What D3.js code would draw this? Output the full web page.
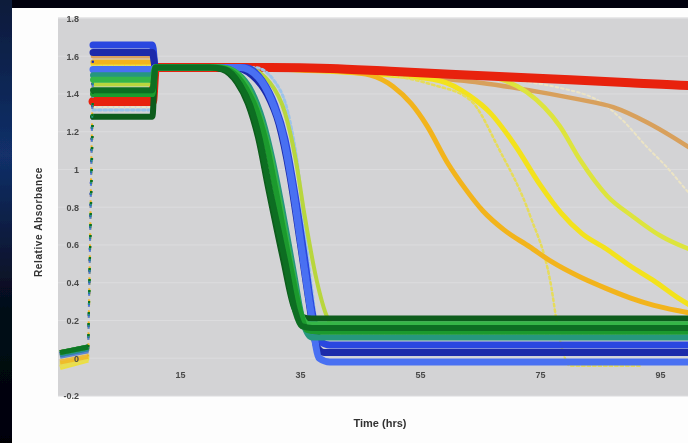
<!DOCTYPE html>
<html>
<head>
<meta charset="utf-8">
<script src="https://d3js.org/d3.v7.min.js"></script>
<style>
  body { margin: 0; background: #000; }
  svg { display: block; }
  text { font-family: "Liberation Sans", Arial, sans-serif; }
</style>
</head>
<body>
<script>
// Relative absorbance vs time, one run per colour

var w = 688;
var h = 443;

// axis ticks
var yTicks = [-0.2, 0, 0.2, 0.4, 0.6, 0.8, 1, 1.2, 1.4, 1.6, 1.8];
var yTickLabels = ["-0.2", "0", "0.2", "0.4", "0.6", "0.8", "1", "1.2", "1.4", "1.6", "1.8"];
var xTicks = [15, 35, 55, 75, 95];
var xTickLabels = ["15", "35", "55", "75", "95"];

// series values, [time (hrs), absorbance]
var palePts = [[-5, 0.03], [-0.3, 0.04], [0.5, 1.33], [10.4, 1.33], [10.9, 1.54], [20, 1.54], [60, 1.5], [80, 1.42], [85, 1.36], [88.8, 1.26], [92.8, 1.12], [96.2, 1.01], [99.7, 0.88], [106, 0.68]];
var tanPts = [[-5, 0.02], [-0.3, 0.04], [0.5, 1.6], [10.4, 1.6], [10.9, 1.54], [20, 1.54], [40, 1.52], [55, 1.49], [65, 1.46], [75, 1.41], [81.7, 1.37], [87.2, 1.33], [92.8, 1.25], [97.2, 1.17], [99.7, 1.12], [106, 1.02]];
var limeYellowPts = [[-5, -0.03], [-0.3, 0.0], [0.5, 1.385], [10.4, 1.385], [10.9, 1.54], [20, 1.54], [40, 1.53], [55, 1.52], [65, 1.5], [72.8, 1.41], [78.3, 1.23], [81.7, 1.05], [86.2, 0.86], [90.5, 0.75], [95, 0.65], [99.7, 0.58], [106, 0.52]];
var yellowPts = [[-5, -0.05], [-0.3, -0.01], [0.5, 1.56], [10.4, 1.56], [10.9, 1.54], [20, 1.54], [40, 1.52], [50, 1.5], [58.3, 1.47], [63.3, 1.39], [66.7, 1.3], [70.8, 1.13], [75, 0.92], [78.5, 0.77], [82, 0.66], [86, 0.58], [90, 0.49], [94, 0.41], [98, 0.32], [106, 0.18]];
var faintYellowPts = [[-5, -0.04], [-0.3, 0.0], [0.5, 1.55], [10.4, 1.55], [10.9, 1.54], [20, 1.54], [40, 1.53], [50, 1.5], [57, 1.45], [63.3, 1.37], [68.3, 1.1], [73.3, 0.76], [76.7, 0.41], [78.3, 0.1], [80, -0.04], [92, -0.04]];
var goldPts = [[-5, -0.02], [-0.3, 0.01], [0.5, 1.57], [10.4, 1.57], [10.9, 1.54], [20, 1.54], [35, 1.53], [42, 1.52], [46.7, 1.5], [50.5, 1.44], [53.5, 1.35], [56.2, 1.23], [59.5, 1.04], [62.5, 0.9], [65.5, 0.78], [69, 0.68], [73.3, 0.59], [77, 0.51], [81.7, 0.43], [86, 0.37], [90, 0.32], [94, 0.28], [98.3, 0.25], [106, 0.21]];
var redPts = [[-5, 0.03], [-0.3, 0.05], [0.5, 1.36], [10.4, 1.36], [10.9, 1.54], [20, 1.54], [30, 1.54], [40, 1.535], [50, 1.52], [60, 1.505], [70, 1.49], [80, 1.475], [90, 1.46], [100, 1.445], [106, 1.44]];
var lightBluePts = [[-5, 0.02], [-0.3, 0.05], [0.5, 1.315], [10.4, 1.315], [10.9, 1.54], [20, 1.54], [27.5, 1.54], [31.7, 1.42], [33.3, 1.26], [34.7, 1.0], [35.8, 0.68], [37, 0.36], [38, 0.15], [40, 0.12], [106, 0.12]];
var limePts = [[-5, 0.01], [-0.3, 0.04], [0.5, 1.45], [10.4, 1.45], [10.9, 1.54], [20, 1.54], [26, 1.54], [30, 1.46], [32.5, 1.3], [34.3, 1.05], [35.8, 0.75], [37.8, 0.41], [39.5, 0.22], [41, 0.16], [106, 0.16]];
var blue1Pts = [[-5, 0.02], [-0.3, 0.05], [0.5, 1.66], [10.4, 1.66], [10.9, 1.54], [20, 1.54], [25.8, 1.54], [28.7, 1.47], [30.8, 1.34], [32.5, 1.16], [34.2, 0.86], [35.8, 0.52], [37, 0.25], [38.3, 0.09], [40, 0.07], [106, 0.07]];
var blue2Pts = [[-5, 0.02], [-0.3, 0.05], [0.5, 1.62], [10.4, 1.62], [10.9, 1.54], [20, 1.54], [24, 1.54], [27, 1.5], [29.5, 1.4], [31.5, 1.24], [33.3, 0.97], [35, 0.62], [36.5, 0.3], [37.8, 0.06], [39, 0.03], [106, 0.03]];
var blue3Pts = [[-5, 0.01], [-0.3, 0.04], [0.5, 1.53], [10.4, 1.53], [10.9, 1.54], [20, 1.54], [25, 1.54], [28, 1.49], [30.2, 1.37], [32, 1.2], [33.8, 0.9], [35.4, 0.55], [36.8, 0.25], [38.2, 0.0], [40, -0.02], [106, -0.02]];
var green5Pts = [[-5, 0.03], [-0.3, 0.06], [0.5, 1.28], [10.4, 1.28], [10.9, 1.54], [20, 1.54], [22, 1.53], [24.5, 1.46], [26.3, 1.35], [28, 1.17], [29.7, 0.9], [32.2, 0.52], [34, 0.27], [35.3, 0.22], [37, 0.21], [106, 0.21]];
var teal4Pts = [[-5, 0.02], [-0.3, 0.05], [0.5, 1.5], [10.4, 1.5], [10.9, 1.54], [22, 1.54], [24.5, 1.51], [27, 1.41], [28.8, 1.26], [30.5, 1.04], [32, 0.8], [34, 0.45], [35.6, 0.18], [37, 0.11], [106, 0.11]];
var green3Pts = [[-5, 0.03], [-0.3, 0.06], [0.5, 1.475], [10.4, 1.475], [10.9, 1.54], [21.5, 1.54], [24, 1.52], [26.5, 1.42], [28.3, 1.28], [30, 1.08], [31.5, 0.84], [33.7, 0.46], [35.3, 0.22], [36.5, 0.18], [106, 0.18]];
var green2Pts = [[-5, 0.03], [-0.3, 0.06], [0.5, 1.4], [10.4, 1.4], [10.9, 1.54], [21, 1.54], [23.5, 1.52], [26, 1.43], [27.8, 1.31], [29.5, 1.12], [31, 0.88], [33.3, 0.5], [35, 0.25], [36.2, 0.15], [38, 0.14], [106, 0.14]];
var green1Pts = [[-5, 0.03], [-0.3, 0.06], [0.5, 1.42], [10.4, 1.42], [10.9, 1.54], [20, 1.54], [22.5, 1.53], [25, 1.45], [26.7, 1.34], [28.3, 1.16], [30, 0.89], [32.5, 0.52], [34.2, 0.25], [35.3, 0.17], [37, 0.16], [106, 0.16]];

// drawing order: back to front
var runs = [
  { pts: palePts,        color: "#ece4c4", width: 2,   dots: true },
  { pts: tanPts,         color: "#d8a05c", width: 4.5 },
  { pts: limeYellowPts,  color: "#dde43e", width: 4.5 },
  { pts: yellowPts,      color: "#f3e21e", width: 5 },
  { pts: faintYellowPts, color: "#e6dc5a", width: 2.5, dots: true },
  { pts: goldPts,        color: "#f2b41e", width: 5 },
  { pts: redPts,         color: "#e8200e", width: 9 },
  { pts: lightBluePts,   color: "#9cc4ea", width: 3,   dots: true },
  { pts: limePts,        color: "#b8d63c", width: 4 },
  { pts: blue1Pts,       color: "#2a46e0", width: 7 },
  { pts: blue2Pts,       color: "#1c2caa", width: 7 },
  { pts: blue3Pts,       color: "#4a70f2", width: 7 },
  { pts: green5Pts,      color: "#0a5c1c", width: 6 },
  { pts: teal4Pts,       color: "#27977e", width: 6 },
  { pts: green3Pts,      color: "#36b646", width: 6 },
  { pts: green2Pts,      color: "#1d9a2e", width: 6 },
  { pts: green1Pts,      color: "#0d6e22", width: 6 }
];

var svg = d3.select("body")
  .append("svg")
  .attr("width", w)
  .attr("height", h);

var defs = svg.append("defs");

// the reference is a soft photo of a slide
defs.append("filter").attr("id", "soft")
  .attr("x", 0).attr("y", 0).attr("width", 1).attr("height", 1)
  .append("feGaussianBlur").attr("stdDeviation", 0.75);

var glow = defs.append("linearGradient").attr("id", "glow")
  .attr("x1", 0).attr("y1", 0).attr("x2", 0).attr("y2", 1);
glow.append("stop").attr("offset", "0%").attr("stop-color", "#0a1a3a");
glow.append("stop").attr("offset", "35%").attr("stop-color", "#12306a");
glow.append("stop").attr("offset", "70%").attr("stop-color", "#050a18");
glow.append("stop").attr("offset", "100%").attr("stop-color", "#020306");

var root = svg.append("g").attr("filter", "url(#soft)");

// dark frame, white slide
root.append("rect").attr("width", w).attr("height", h).attr("fill", "#030408");
root.append("rect").attr("x", 0).attr("y", 0).attr("width", 12).attr("height", h).attr("fill", "url(#glow)");
root.append("rect").attr("x", 12).attr("y", 8).attr("width", w - 12).attr("height", h - 8).attr("fill", "#fdfdfd");

var x = d3.scaleLinear().domain([-5, 105]).range([60, 720]);
var y = d3.scaleLinear().domain([-0.2, 1.8]).range([396, 18.5]);

// plot area
var plotLeft = x(-5) - 2;
root.append("rect")
  .attr("x", plotLeft)
  .attr("y", y(1.8) - 1)
  .attr("width", w - plotLeft)
  .attr("height", y(-0.2) - y(1.8) + 1)
  .attr("fill", "#d3d3d5");

defs.append("clipPath").attr("id", "plotclip")
  .append("rect")
  .attr("x", plotLeft)
  .attr("y", y(1.8) - 1)
  .attr("width", w - plotLeft)
  .attr("height", y(-0.2) - y(1.8) + 1);

// faint gridlines
root.append("g")
  .selectAll("line")
  .data(yTicks)
  .enter()
  .append("line")
  .attr("x1", plotLeft).attr("x2", w)
  .attr("y1", function (d) { return y(d); })
  .attr("y2", function (d) { return y(d); })
  .attr("stroke", "#dcdcde")
  .attr("stroke-width", 1);

// the runs
var line = d3.line()
  .x(function (d) { return x(d[0]); })
  .y(function (d) { return y(d[1]); })
  .curve(d3.curveMonotoneX);

var plot = root.append("g").attr("clip-path", "url(#plotclip)");

runs.forEach(function (r) {
  var pre = r.pts.filter(function (p) { return p[0] < 0; });
  var main = r.pts.filter(function (p) { return p[0] > 0; });
  var rise = [pre[pre.length - 1], main[0]];

  plot.append("path")
    .attr("d", line(pre))
    .attr("fill", "none")
    .attr("stroke", r.color)
    .attr("stroke-width", 5)
    .attr("opacity", 0.8);

  // jump at t=0 shows as scattered points
  plot.append("path")
    .attr("d", d3.line().x(function (d) { return x(d[0]); }).y(function (d) { return y(d[1]); })(rise))
    .attr("fill", "none")
    .attr("stroke", r.color)
    .attr("stroke-width", 2)
    .attr("stroke-dasharray", "2,9");

  plot.append("path")
    .attr("d", line(main))
    .attr("fill", "none")
    .attr("stroke", r.color)
    .attr("stroke-width", r.width)
    .attr("stroke-linecap", "round")
    .attr("stroke-dasharray", r.dots ? "2.5,3" : null);
});

// axes sit on x=0 and y=0, Excel style; labels drawn over the runs
var yAxis = root.append("g")
  .attr("transform", "translate(" + x(0) + ",0)")
  .call(d3.axisLeft(y).tickValues(yTicks).tickSize(0).tickPadding(11)
    .tickFormat(function (d, i) { return yTickLabels[i]; }));

var xAxis = root.append("g")
  .attr("transform", "translate(0," + y(0) + ")")
  .call(d3.axisBottom(x).tickValues(xTicks).tickSize(0).tickPadding(13)
    .tickFormat(function (d, i) { return xTickLabels[i]; }));

[yAxis, xAxis].forEach(function (a) {
  a.select(".domain").remove();
  a.selectAll("text")
    .attr("fill", "#4a4a4a")
    .style("font-size", "9px")
    .style("font-weight", "bold");
});

// axis titles
root.append("text")
  .attr("transform", "translate(42," + 222 + ") rotate(-90)")
  .attr("text-anchor", "middle")
  .attr("fill", "#333")
  .style("font-size", "10px")
  .style("font-weight", "bold")
  .style("letter-spacing", "0.6px")
  .text("Relative Absorbance");

root.append("text")
  .attr("x", 380)
  .attr("y", 427)
  .attr("text-anchor", "middle")
  .attr("fill", "#333")
  .style("font-size", "11px")
  .style("font-weight", "bold")
  .text("Time (hrs)");
</script>
</body>
</html>
